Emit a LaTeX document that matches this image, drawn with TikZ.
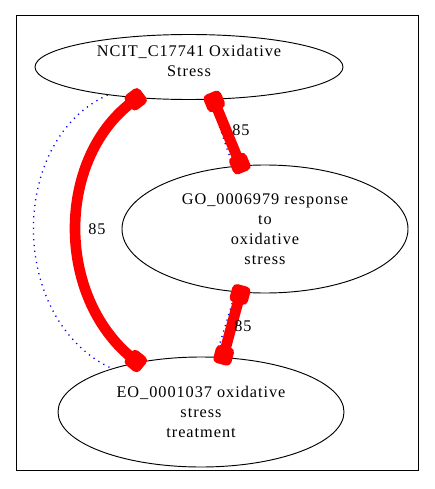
\documentclass[tikz,border=0pt]{standalone}
\usepackage{fontspec}
\setmainfont{Liberation Serif}[LetterSpace=6]
\usepackage{tikz}
\usetikzlibrary{shapes,arrows.meta,positioning}

\begin{document}
\begin{tikzpicture}[
    x=0.75pt, y=-0.75pt,
    term/.style={ellipse, draw, line width=0.7pt, inner sep=0pt, align=center, font=\fontsize{12.2}{15}\selectfont},
    hit/.style={red, line width=8pt, {Square[length=14pt,width=14pt,round]}-{Square[length=14pt,width=14pt,round]}, shorten <=-5.5pt, shorten >=-5.5pt},
    link/.style={blue, line width=1pt, dash pattern=on 0.9pt off 3.4pt},
    score/.style={font=\fontsize{12.2}{15}\selectfont}
]
    \useasboundingbox (0,0) rectangle (435,489);
    % Frame
    \draw[line width=0.7pt] (16,15) rectangle (418,470);

    % Terms
    \node[term, minimum width=231pt, minimum height=48.75pt] (ncit) at (189,67) {NCIT\_C17741 Oxidative\\Stress\\[-6pt]};
    \node[term, minimum width=214.5pt, minimum height=96pt] (go) at (265,229) {GO\_0006979 response\\to\\oxidative\\stress};
    \node[term, minimum width=214.5pt, minimum height=82.5pt] (eo) at (201,412) {EO\_0001037 oxidative\\stress\\treatment};

    % Dotted links
    \draw[link] (ncit.199.6) .. controls (8,140) and (8,320) .. (eo.154.2);
    \draw[link] (ncit.303) -- (go.117);
    \draw[link] (go.245) -- (eo.75.6);

    % Scored links
    \draw[hit] (ncit.211.6) .. controls (56,160) and (56,296) .. (eo.142.6);
    \draw[hit] (ncit.307) -- (go.111.6);
    \draw[hit] (go.249) -- (eo.68.9);

    % Scores
    \node[score] (sLeft) at (97,229) {85};
    \node[score] (sTop) at (241,130) {85};
    \node[score] (sBottom) at (243,326) {85};
\end{tikzpicture}
\end{document}
